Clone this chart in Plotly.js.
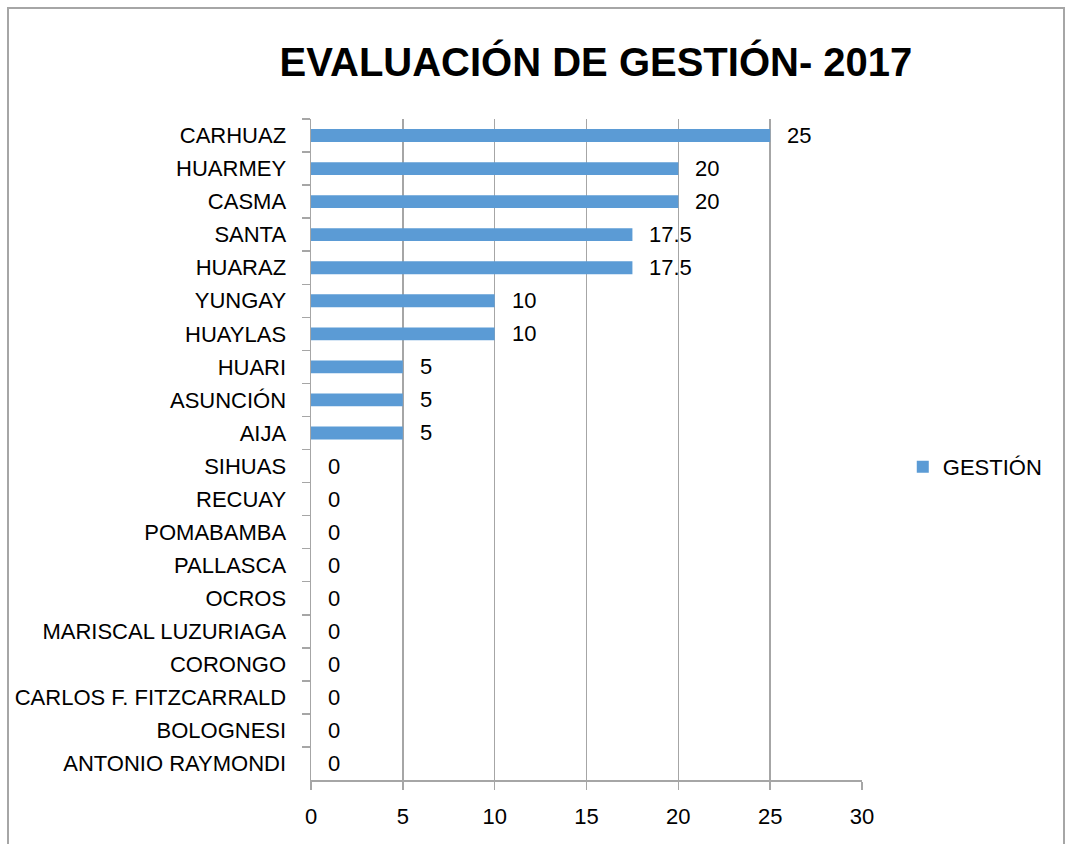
<!DOCTYPE html>
<html>
<head>
<meta charset="utf-8">
<script src="https://cdn.plot.ly/plotly-3.0.1.min.js"></script>
<style>
  html, body { margin: 0; padding: 0; background: #fff; }
  #chart { position: absolute; left: 0; top: 0; width: 1065px; height: 844px; }
  #frame { position: absolute; left: 7px; top: 7px; width: 1054px; height: 870px; border: 2px solid #a6a6a6; pointer-events: none; }
</style>
</head>
<body>
<div id="chart"></div>
<div id="frame"></div>
<script>
const categories = ["CARHUAZ", "HUARMEY", "CASMA", "SANTA", "HUARAZ", "YUNGAY", "HUAYLAS", "HUARI", "ASUNCIÓN", "AIJA",
  "SIHUAS", "RECUAY", "POMABAMBA", "PALLASCA", "OCROS", "MARISCAL LUZURIAGA", "CORONGO", "CARLOS F. FITZCARRALD", "BOLOGNESI", "ANTONIO RAYMONDI"];
const gestion = [25, 20, 20, 17.5, 17.5, 10, 10, 5, 5, 5, 0, 0, 0, 0, 0, 0, 0, 0, 0, 0];
const seriesName = "GESTIÓN";
const chartTitle = "EVALUACIÓN DE GESTIÓN- 2017";
const xTicks = [0, 5, 10, 15, 20, 25, 30];

const font = "Liberation Sans, Arial, sans-serif";
const gray = "#a6a6a6";

const trace = {
  type: "bar",
  orientation: "h",
  y: categories,
  x: gestion,
  name: seriesName,
  marker: { color: "#5b9bd5" },
  showlegend: true,
  hoverinfo: "x+y"
};

const annotations = categories.map((c, i) => ({
  x: gestion[i], y: c, xref: "x", yref: "y",
  text: String(gestion[i]), showarrow: false,
  xanchor: "left", yanchor: "middle", xshift: 15,
  font: { family: font, size: 22, color: "#000" }
}));

const layout = {
  width: 1065, height: 844,
  margin: { l: 311, r: 203, t: 119, b: 64 },
  paper_bgcolor: "#fff", plot_bgcolor: "#fff",
  font: { family: font, size: 22, color: "#000" },
  title: {
    text: "<b>" + chartTitle + "</b>",
    font: { family: font, size: 40, color: "#000" },
    x: 0.5596, xref: "container", xanchor: "center",
    y: 0.9265, yref: "container", yanchor: "middle"
  },
  bargap: 0.61,
  xaxis: {
    range: [0, 30], tickvals: xTicks, ticktext: xTicks.map(String),
    showgrid: true, gridcolor: gray, gridwidth: 1.5,
    showline: true, linecolor: gray, linewidth: 1.5,
    ticks: "outside", ticklen: 8, tickcolor: gray, tickwidth: 1.5,
    ticklabelstandoff: 8,
    zeroline: false, fixedrange: true,
    tickfont: { family: font, size: 22, color: "#000" }
  },
  yaxis: {
    type: "category", autorange: "reversed",
    showgrid: false,
    showline: true, linecolor: gray, linewidth: 1.5,
    ticks: "outside", ticklen: 8, tickcolor: gray, tickwidth: 1.5,
    tickson: "boundaries",
    ticklabelstandoff: 19,
    fixedrange: true,
    tickfont: { family: font, size: 22, color: "#000" }
  },
  legend: {
    x: 1.074, xanchor: "left", y: 0.4735, yanchor: "middle",
    font: { family: font, size: 22, color: "#000" },
    bgcolor: "rgba(0,0,0,0)"
  },
  annotations: annotations
};

Plotly.newPlot("chart", [trace], layout, { displayModeBar: false, staticPlot: true });
</script>
</body>
</html>
